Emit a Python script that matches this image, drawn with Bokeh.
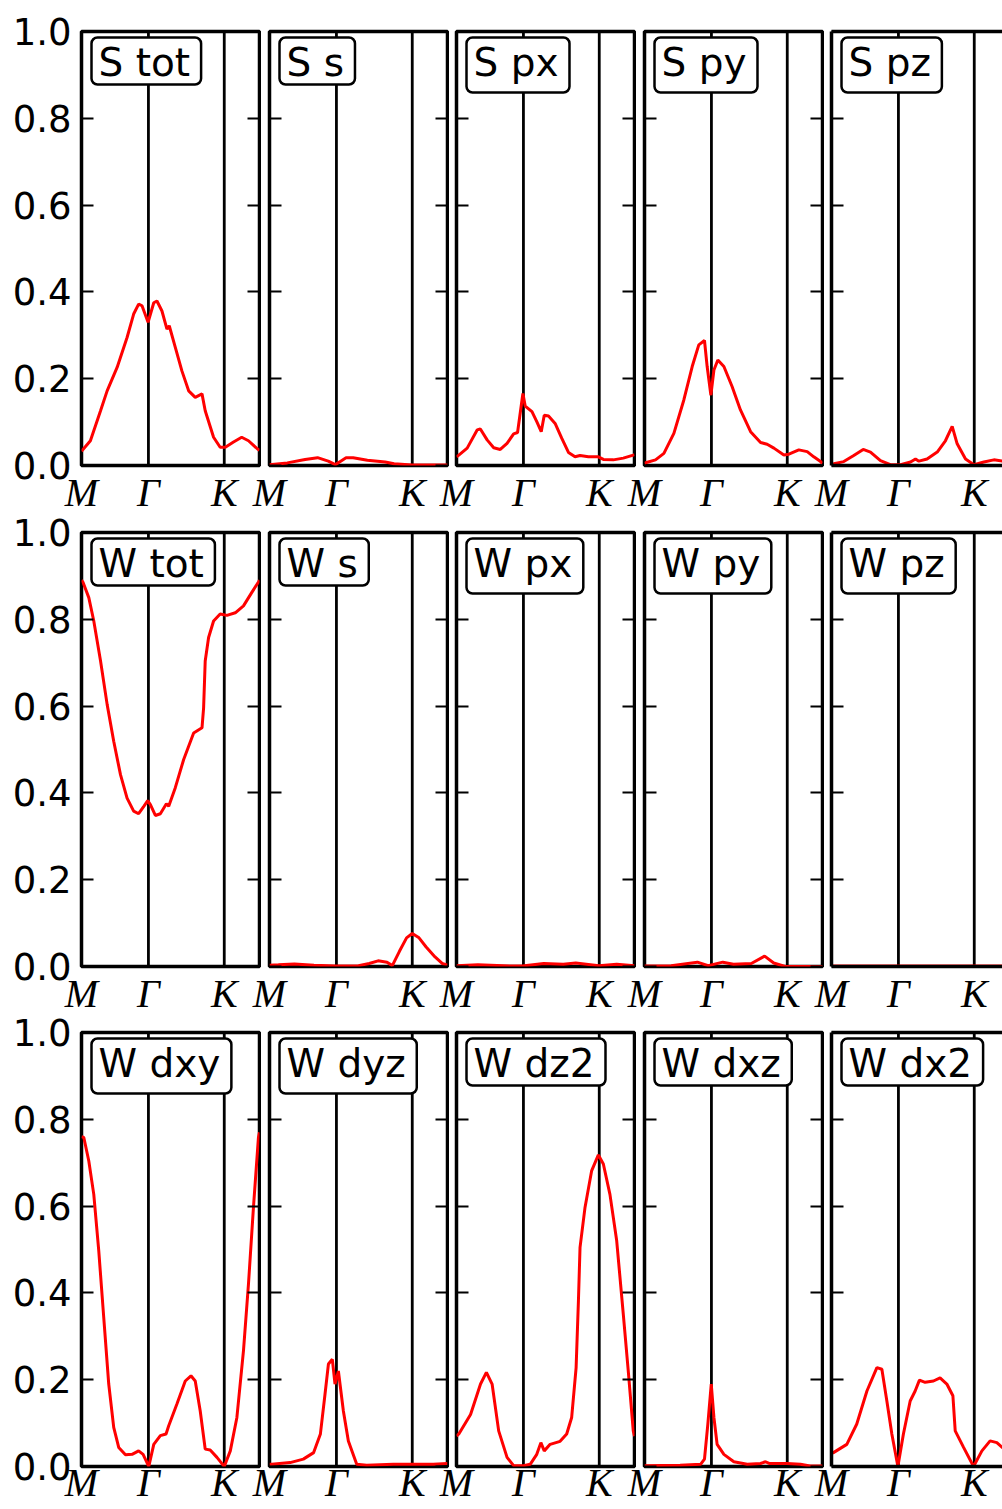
from bokeh.plotting import figure
from bokeh.models import Range1d, FixedTicker, PrintfTickFormatter, LinearAxis, Span, Label
from bokeh.layouts import row, column
from bokeh.embed import file_html
from bokeh.resources import INLINE

# ---------------- data ----------------
path_ticks = [0.0, 0.376, 0.802]          # M, Gamma, K along the normalised path (ends at M = 1.0)
path_labels = ["M", "Γ", "K"]
y_ticks = [0.0, 0.2, 0.4, 0.6, 0.8, 1.0]

titles_row1 = ["S tot", "S s", "S px", "S py", "S pz"]
titles_row2 = ["W tot", "W s", "W px", "W py", "W pz"]
titles_row3 = ["W dxy", "W dyz", "W dz2", "W dxz", "W dx2"]

s_tot_k = [0.0, 0.05, 0.107, 0.144, 0.2, 0.256, 0.293, 0.321, 0.34, 0.374, 0.406, 0.424, 0.452, 0.48,
           0.493, 0.527, 0.564, 0.602, 0.639, 0.677, 0.695, 0.742, 0.779, 0.808, 0.854, 0.9, 0.938, 0.989, 1.0]
s_tot_w = [0.033, 0.057, 0.126, 0.172, 0.226, 0.295, 0.349, 0.372, 0.368, 0.33, 0.375, 0.379, 0.356, 0.314,
           0.322, 0.272, 0.218, 0.172, 0.157, 0.165, 0.126, 0.065, 0.042, 0.042, 0.054, 0.065, 0.057, 0.038, 0.035]

s_s_k = [0.0, 0.1, 0.2, 0.27, 0.33, 0.37, 0.4, 0.43, 0.47, 0.55, 0.65, 0.7, 0.8, 1.0]
s_s_w = [0.002, 0.006, 0.014, 0.018, 0.01, 0.002, 0.01, 0.018, 0.018, 0.012, 0.008, 0.004, 0.001, 0.001]

s_px_k = [0.0, 0.013, 0.06, 0.116, 0.134, 0.172, 0.209, 0.246, 0.284, 0.321, 0.343, 0.373, 0.386, 0.424,
          0.451, 0.476, 0.493, 0.517, 0.554, 0.591, 0.629, 0.666, 0.694, 0.741, 0.797, 0.825, 0.881, 0.937, 0.993, 1.0]
s_px_w = [0.02, 0.024, 0.04, 0.082, 0.084, 0.059, 0.041, 0.037, 0.051, 0.073, 0.076, 0.166, 0.137, 0.124,
          0.101, 0.078, 0.116, 0.114, 0.097, 0.063, 0.03, 0.02, 0.023, 0.02, 0.02, 0.014, 0.013, 0.017, 0.024, 0.025]

s_py_k = [0.0, 0.011, 0.062, 0.109, 0.165, 0.221, 0.268, 0.305, 0.337, 0.352, 0.373, 0.39, 0.412, 0.446,
          0.492, 0.539, 0.596, 0.652, 0.689, 0.727, 0.783, 0.811, 0.867, 0.914, 0.951, 0.989, 1.0]
s_py_w = [0.005, 0.007, 0.013, 0.028, 0.074, 0.151, 0.228, 0.278, 0.288, 0.228, 0.162, 0.22, 0.243, 0.228,
          0.182, 0.128, 0.078, 0.053, 0.049, 0.04, 0.024, 0.026, 0.036, 0.032, 0.02, 0.009, 0.005]

s_pz_k = [0.0, 0.013, 0.069, 0.125, 0.178, 0.219, 0.275, 0.331, 0.388, 0.444, 0.472, 0.491, 0.537, 0.594,
          0.64, 0.678, 0.706, 0.753, 0.8, 0.856, 0.912, 1.0]
s_pz_w = [0.003, 0.004, 0.009, 0.023, 0.037, 0.031, 0.011, 0.002, 0.002, 0.008, 0.015, 0.01, 0.015, 0.031,
          0.057, 0.09, 0.05, 0.015, 0.002, 0.008, 0.013, 0.008]

w_tot_k = [0.0, 0.009, 0.041, 0.069, 0.107, 0.144, 0.181, 0.219, 0.256, 0.293, 0.321, 0.35, 0.372, 0.387,
           0.415, 0.443, 0.477, 0.49, 0.527, 0.574, 0.63, 0.677, 0.686, 0.695, 0.714, 0.742, 0.779, 0.817,
           0.864, 0.91, 0.957, 0.994, 1.0]
w_tot_w = [0.89, 0.885, 0.85, 0.796, 0.704, 0.604, 0.519, 0.442, 0.388, 0.358, 0.352, 0.369, 0.382, 0.373,
           0.348, 0.352, 0.375, 0.369, 0.412, 0.477, 0.538, 0.55, 0.596, 0.704, 0.758, 0.796, 0.812, 0.809,
           0.815, 0.831, 0.862, 0.886, 0.89]

w_s_k = [0.0, 0.05, 0.14, 0.25, 0.37, 0.5, 0.56, 0.61, 0.66, 0.69, 0.73, 0.77, 0.802, 0.84, 0.88, 0.93, 0.97, 1.0]
w_s_w = [0.003, 0.004, 0.006, 0.003, 0.001, 0.002, 0.007, 0.013, 0.01, 0.002, 0.035, 0.066, 0.076, 0.066,
         0.045, 0.022, 0.007, 0.003]

w_px_k = [0.0, 0.12, 0.3, 0.37, 0.49, 0.6, 0.67, 0.8, 0.9, 1.0]
w_px_w = [0.002, 0.004, 0.001, 0.001, 0.007, 0.005, 0.008, 0.002, 0.005, 0.002]

w_py_k = [0.0, 0.15, 0.297, 0.358, 0.44, 0.5, 0.6, 0.675, 0.726, 0.79, 1.0]
w_py_w = [0.001, 0.002, 0.01, 0.002, 0.01, 0.005, 0.007, 0.024, 0.008, 0.0, 0.0]

w_pz_k = [0.0, 0.5, 1.0]
w_pz_w = [0.001, 0.001, 0.001]

w_dxy_k = [0.0, 0.013, 0.041, 0.069, 0.097, 0.125, 0.153, 0.181, 0.209, 0.247, 0.284, 0.321, 0.346, 0.378,
           0.406, 0.443, 0.475, 0.49, 0.536, 0.583, 0.615, 0.639, 0.667, 0.695, 0.723, 0.761, 0.802, 0.836,
           0.873, 0.91, 0.938, 0.966, 0.994, 1.0]
w_dxy_w = [0.76, 0.758, 0.704, 0.627, 0.497, 0.343, 0.19, 0.09, 0.044, 0.027, 0.028, 0.036, 0.028, 0.0,
           0.051, 0.071, 0.075, 0.094, 0.144, 0.197, 0.209, 0.197, 0.128, 0.04, 0.038, 0.021, 0.0, 0.036,
           0.113, 0.267, 0.42, 0.597, 0.758, 0.77]

w_dyz_k = [0.0, 0.013, 0.116, 0.19, 0.248, 0.286, 0.312, 0.331, 0.353, 0.368, 0.387, 0.415, 0.443, 0.49,
           0.546, 0.695, 0.92, 1.0]
w_dyz_w = [0.005, 0.005, 0.009, 0.017, 0.032, 0.075, 0.167, 0.236, 0.247, 0.19, 0.22, 0.128, 0.059, 0.005,
           0.003, 0.005, 0.005, 0.007]

w_dz2_k = [0.0, 0.013, 0.079, 0.135, 0.168, 0.2, 0.237, 0.284, 0.321, 0.377, 0.414, 0.451, 0.474, 0.493,
           0.526, 0.582, 0.619, 0.647, 0.672, 0.685, 0.694, 0.722, 0.759, 0.797, 0.825, 0.862, 0.9, 0.937,
           0.965, 0.993, 1.0]
w_dz2_w = [0.07, 0.075, 0.12, 0.19, 0.217, 0.19, 0.082, 0.021, 0.002, 0.002, 0.005, 0.028, 0.055, 0.036,
           0.051, 0.058, 0.075, 0.113, 0.228, 0.382, 0.505, 0.597, 0.681, 0.718, 0.697, 0.627, 0.52, 0.351,
           0.22, 0.082, 0.07]

w_dxz_k = [0.0, 0.2, 0.315, 0.337, 0.356, 0.375, 0.39, 0.408, 0.446, 0.502, 0.577, 0.652, 0.68, 0.7, 0.8,
           0.876, 0.93, 1.0]
w_dxz_w = [0.002, 0.003, 0.005, 0.017, 0.098, 0.19, 0.113, 0.051, 0.028, 0.011, 0.005, 0.007, 0.011, 0.007,
           0.007, 0.005, 0.001, 0.001]

w_dx2_k = [0.0, 0.011, 0.086, 0.142, 0.199, 0.255, 0.283, 0.311, 0.339, 0.373, 0.404, 0.442, 0.47, 0.494,
           0.526, 0.573, 0.61, 0.648, 0.682, 0.695, 0.742, 0.798, 0.845, 0.891, 0.929, 0.959, 1.0]
w_dx2_w = [0.03, 0.032, 0.051, 0.098, 0.174, 0.228, 0.224, 0.151, 0.075, 0.0, 0.075, 0.151, 0.174, 0.199,
           0.194, 0.197, 0.204, 0.19, 0.163, 0.082, 0.044, 0.0, 0.036, 0.059, 0.055, 0.044, 0.035]

rows_data = [
    [(s_tot_k, s_tot_w), (s_s_k, s_s_w), (s_px_k, s_px_w), (s_py_k, s_py_w), (s_pz_k, s_pz_w)],
    [(w_tot_k, w_tot_w), (w_s_k, w_s_w), (w_px_k, w_px_w), (w_py_k, w_py_w), (w_pz_k, w_pz_w)],
    [(w_dxy_k, w_dxy_w), (w_dyz_k, w_dyz_w), (w_dz2_k, w_dz2_w), (w_dxz_k, w_dxz_w), (w_dx2_k, w_dx2_w)],
]
rows_titles = [titles_row1, titles_row2, titles_row3]

# ---------------- layout / style ----------------
FRAME_W = 178
FRAME_H = 434
col_fw = [178, 178, 178, 178, 171]       # last panel is cut by the page edge
col_bl = [81, 26, 26, 26, 26]
col_br = [2, 2, 2, 2, 0]
col_margin = [0, -18, -19, -18, -19]
row_bt = [31, 27, 27]
row_bb = [54, 54, 43]
row_margin = [0, -14, -15]
row_xstandoff = [-2, -2, -13]

TICK_FONT = "DejaVu Sans"
TICK_SIZE = "37px"
K_FONT = "Liberation Serif"
K_SIZE = "40px"


def make_panel(r, c, k, w, title):
    last = c == 4
    p = figure(frame_width=col_fw[c], frame_height=FRAME_H,
               min_border_left=col_bl[c], min_border_right=col_br[c],
               min_border_top=row_bt[r], min_border_bottom=row_bb[r],
               x_range=Range1d(0, col_fw[c] / FRAME_W), y_range=Range1d(0, 1),
               output_backend="svg", toolbar_location=None,
               background_fill_color="white", border_fill_color=None,
               outline_line_color=None if last else "black", outline_line_width=3.5,
               margin=(0, 0, 0, col_margin[c]))
    p.grid.visible = False

    for loc in path_ticks[1:]:
        p.add_layout(Span(location=loc, dimension="height", line_color="black",
                          line_width=2.8, level="underlay"))
    p.line(k, w, line_color="red", line_width=3.0)

    xa = p.xaxis[0]
    xa.ticker = FixedTicker(ticks=path_ticks)
    xa.major_label_overrides = {t: l for t, l in zip(path_ticks, path_labels)}
    xa.major_tick_line_color = None
    xa.minor_tick_line_color = None
    xa.major_label_text_font = K_FONT
    xa.major_label_text_font_style = "italic"
    xa.major_label_text_font_size = K_SIZE
    xa.major_label_text_color = "black"
    xa.major_label_standoff = row_xstandoff[r]
    xa.axis_line_color = "black" if last else None
    xa.axis_line_width = 3.5

    ya = p.yaxis[0]
    ya.ticker = FixedTicker(ticks=y_ticks)
    ya.formatter = PrintfTickFormatter(format="%.1f")
    ya.major_tick_in = 12
    ya.major_tick_out = 0
    ya.major_tick_line_width = 2
    ya.minor_tick_line_color = None
    ya.major_label_text_font = TICK_FONT
    ya.major_label_text_font_size = TICK_SIZE
    if c == 0:
        ya.major_label_text_color = "black"
        ya.major_label_standoff = 10
    else:
        ya.major_label_overrides = {t: "" for t in y_ticks}
        ya.major_label_text_color = None
        ya.major_label_standoff = 0
    ya.axis_line_color = "black" if last else None
    ya.axis_line_width = 3.5

    if not last:
        ra = LinearAxis(ticker=FixedTicker(ticks=y_ticks), major_tick_in=12, major_tick_out=0,
                        major_tick_line_width=2, minor_tick_line_color=None,
                        major_label_overrides={t: "" for t in y_ticks},
                        major_label_text_color=None, major_label_standoff=0,
                        axis_line_color=None)
        p.add_layout(ra, "right")
    else:
        ta = LinearAxis(ticker=FixedTicker(ticks=[]), major_tick_out=0, major_tick_in=0,
                        major_tick_line_color=None, minor_tick_line_color=None,
                        major_label_text_color=None, major_label_standoff=0,
                        axis_line_color="black", axis_line_width=3.5)
        p.add_layout(ta, "above")

    has_desc = any(ch in title for ch in "pyg")
    # padding order: (left, right, top, bottom)
    p.add_layout(Label(x=0, y=1, x_offset=10, y_offset=-6, text=title,
                       text_font="DejaVu Sans", text_font_size="39px", text_color="black",
                       text_align="left", text_baseline="top",
                       background_fill_color="white", border_line_color="black",
                       border_line_width=2.5, border_radius=6,
                       padding=(7, 11, 2, 8 if has_desc else 0)))
    return p


rows_layout = []
for r in range(3):
    panels = [make_panel(r, c, rows_data[r][c][0], rows_data[r][c][1], rows_titles[r][c]) for c in range(5)]
    rows_layout.append(row(*panels, margin=(row_margin[r], 0, 0, 0)))

layout = column(*rows_layout)
open("out.html", "w").write(file_html(layout, INLINE))
